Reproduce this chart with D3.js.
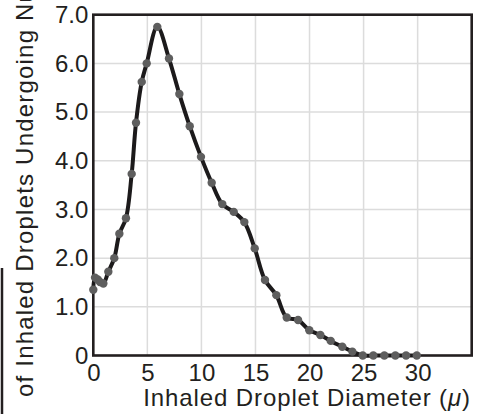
<!DOCTYPE html>
<html>
<head>
<meta charset="utf-8">
<script src="https://cdnjs.cloudflare.com/ajax/libs/d3/7.8.5/d3.min.js"></script>
<style>
  html, body { margin: 0; padding: 0; background: #fff; }
  svg { display: block; font-family: "Liberation Sans", Arial, sans-serif; }
</style>
</head>
<body>
<div id="chart"></div>
<script>
// droplet diameter (micron) and percent
var diameters = [0, 0.16, 0.41, 0.62, 0.93, 1.39, 1.94, 2.41, 3.02, 3.55, 3.95, 4.48, 4.94, 5.92,
                 7.0, 7.96, 8.92, 9.96, 10.95, 11.93, 12.99, 13.97, 14.93, 15.88, 16.93, 17.89,
                 18.94, 19.98, 21.0, 21.96, 23.03, 23.96, 24.92, 25.9, 26.92, 27.94, 28.93, 29.92];
var percents = [1.35, 1.60, 1.56, 1.51, 1.48, 1.72, 2.0, 2.50, 2.82, 3.73, 4.78, 5.62, 6.00, 6.75,
                6.10, 5.37, 4.71, 4.08, 3.55, 3.11, 2.95, 2.74, 2.20, 1.55, 1.24, 0.78,
                0.73, 0.52, 0.42, 0.30, 0.18, 0.08, 0, 0, 0, 0, 0, 0];
var xTicks = [0, 5, 10, 15, 20, 25, 30];
var yTicks = [0, 1, 2, 3, 4, 5, 6, 7];
var xLabel = "Inhaled Droplet Diameter (";
var yLabel = "of  Inhaled Droplets Undergoing Nucleation";

var W = 479, H = 414;
var mLeft = 93.3, mRight = 471.7, mTop = 14.7, mBottom = 355.5;

var svg = d3.select("#chart").append("svg") //Init D3
    .attr("width", W)
    .attr("height", H);

var x = d3.scaleLinear().domain([0, 35]).range([mLeft, mRight]);
var y = d3.scaleLinear().domain([0, 7]).range([mBottom, mTop]);

var data = diameters.map(function(d, i){return {X: d, Y: percents[i]};});

// grid
svg.selectAll(".gx").data(xTicks.filter(function(d){return d > 0;}))
  .enter().append("line")
    .attr("class", "gx")
    .attr("x1", function(d){return x(d);})
    .attr("x2", function(d){return x(d);})
    .attr("y1", mTop)
    .attr("y2", mBottom)
    .attr("stroke", "#dcdcdc")
    .attr("stroke-width", 1.5);

svg.selectAll(".gy").data(yTicks.filter(function(d){return d > 0 && d < 7;}))
  .enter().append("line")
    .attr("class", "gy")
    .attr("x1", mLeft)
    .attr("x2", mRight)
    .attr("y1", function(d){return y(d);})
    .attr("y2", function(d){return y(d);})
    .attr("stroke", "#dcdcdc")
    .attr("stroke-width", 1.5);

// frame
svg.append("rect")
    .attr("x", mLeft)
    .attr("y", mTop)
    .attr("width", mRight - mLeft)
    .attr("height", mBottom - mTop)
    .attr("fill", "none")
    .attr("stroke", "#231f20")
    .attr("stroke-width", 2.6);

// axes (labels only, frame draws the lines)
var xAxis = svg.append("g")
    .attr("transform", "translate(0," + mBottom + ")")
    .call(d3.axisBottom(x).tickValues(xTicks).tickSize(0).tickPadding(8).tickFormat(d3.format("d")));
var yAxis = svg.append("g")
    .attr("transform", "translate(" + mLeft + ",0)")
    .call(d3.axisLeft(y).tickValues(yTicks).tickSize(0).tickPadding(5)
      .tickFormat(function(d){return d === 0 ? "0" : d3.format(".1f")(d);}));

[xAxis, yAxis].forEach(function(g){
  g.select(".domain").remove();
  g.selectAll("text")
    .attr("font-family", "Liberation Sans, Arial, sans-serif")
    .attr("font-size", 24)
    .attr("fill", "#231f20");
});

// line
var line = d3.line()
    .x(function(d){return x(d.X);})
    .y(function(d){return y(d.Y);})
    .curve(d3.curveCatmullRom.alpha(0.5));

svg.append("path")
    .datum(data)
    .attr("d", line)
    .attr("fill", "none")
    .attr("stroke", "#1c1a1b")
    .attr("stroke-width", 4)
    .attr("stroke-linejoin", "round");

svg.selectAll("circle").data(data)
  .enter().append("circle")
    .attr("cx", function(d){return x(d.X);})
    .attr("cy", function(d){return y(d.Y);})
    .attr("r", 4.2)
    .attr("fill", "#5e5e5e");

// axis titles
var xt = svg.append("text")
    .attr("x", 471)
    .attr("y", 406)
    .attr("text-anchor", "end")
    .attr("font-size", 24)
    .attr("letter-spacing", 0.9)
    .attr("fill", "#231f20");
xt.append("tspan").text(xLabel);
xt.append("tspan").attr("font-style", "italic").text("\u03bc");
xt.append("tspan").text(")");

svg.append("text")
    .attr("transform", "translate(33,397) rotate(-90)")
    .attr("text-anchor", "start")
    .attr("font-size", 24)
    .attr("letter-spacing", 1.2)
    .attr("fill", "#231f20")
    .text(yLabel);

// page edge line at the bottom left
svg.append("line")
    .attr("x1", 2).attr("x2", 2)
    .attr("y1", 268).attr("y2", H)
    .attr("stroke", "#231f20")
    .attr("stroke-width", 2.5);
</script>
</body>
</html>
